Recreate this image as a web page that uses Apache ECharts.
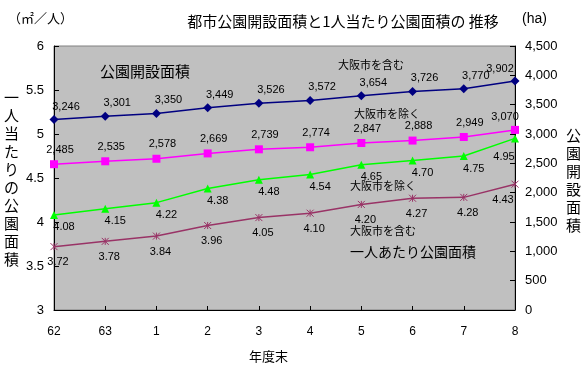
<!DOCTYPE html>
<html>
<head>
<meta charset="utf-8">
<script src="https://cdn.jsdelivr.net/npm/echarts@6/dist/echarts.min.js"></script>
<style>
	html, body { margin: 0; padding: 0; background: #fff; }
	#chart { width: 587px; height: 375px; }
</style>
</head>
<body>
<div id="chart"></div>
<script>
// 年度末 (昭和62 ～ 平成8)
var years = ['62', '63', '1', '2', '3', '4', '5', '6', '7', '8'];
// 公園開設面積 (ha)
var areaWithOsaka = [3246, 3301, 3350, 3449, 3526, 3572, 3654, 3726, 3770, 3902];
var areaWithoutOsaka = [2485, 2535, 2578, 2669, 2739, 2774, 2847, 2888, 2949, 3070];
// 一人あたり公園面積 (㎡/人)
var perWithoutOsaka = [4.08, 4.15, 4.22, 4.38, 4.48, 4.54, 4.65, 4.70, 4.75, 4.95];
var perWithOsaka = [3.72, 3.78, 3.84, 3.96, 4.05, 4.10, 4.20, 4.27, 4.28, 4.43];

var FONT = '"Liberation Sans", "Noto Sans CJK JP", sans-serif';
var CJK = '"Noto Sans CJK JP", sans-serif';

function fmt(v) {
	return String(v).replace(/\B(?=(\d{3})+(?!\d))/g, ',');
}

// last point label sits left of the point
function withLastLabel(arr, offset) {
	return arr.map(function(v, i) {
		if (i === arr.length - 1) {
			return { value: v, label: { offset: offset } };
		}
		return v;
	});
}

var chart = echarts.init(document.getElementById('chart'));
chart.setOption({
	animation: false,
	backgroundColor: '#ffffff',
	textStyle: { fontFamily: FONT },
	title: {
		text: '都市公園開設面積と1人当たり公園面積の 推移',
		left: 338,
		top: 9,
		textAlign: 'center',
		textStyle: { fontFamily: CJK, fontSize: 15, fontWeight: 'normal', color: '#000' }
	},
	grid: {
		left: 54, right: 72, top: 46, bottom: 65,
		show: true,
		backgroundColor: '#c0c0c0',
		borderColor: '#808080',
		borderWidth: 1
	},
	xAxis: {
		type: 'category',
		data: years,
		boundaryGap: false,
		axisLine: { lineStyle: { color: '#000', width: 1 } },
		axisTick: { inside: true, length: 4, lineStyle: { color: '#000' } },
		axisLabel: { color: '#000', fontSize: 12, margin: 16, fontFamily: FONT },
		splitLine: { show: false }
	},
	yAxis: [{
		type: 'value',
		min: 3, max: 6, interval: 0.5,
		position: 'left',
		axisLine: { show: true, lineStyle: { color: '#000' } },
		axisTick: { show: true, inside: true, length: 5, lineStyle: { color: '#000' } },
		axisLabel: { color: '#000', fontSize: 13, margin: 10, fontFamily: FONT },
		splitLine: { show: false }
	}, {
		type: 'value',
		min: 0, max: 4500, interval: 500,
		position: 'right',
		axisLine: { show: true, lineStyle: { color: '#000' } },
		axisTick: { show: true, inside: true, length: 5, lineStyle: { color: '#000' } },
		axisLabel: { color: '#000', fontSize: 13, margin: 10, fontFamily: FONT, formatter: fmt },
		splitLine: { show: false }
	}],
	series: [{
		name: '公園開設面積(大阪市を含む)',
		type: 'line',
		yAxisIndex: 1,
		data: withLastLabel(areaWithOsaka, [-15, 3]),
		symbol: 'diamond',
		symbolSize: 9,
		lineStyle: { color: '#000080', width: 1.5 },
		itemStyle: { color: '#000080' },
		label: { show: true, position: 'top', offset: [12, 2], fontSize: 11, color: '#000', formatter: function(p) { return fmt(p.value); } }
	}, {
		name: '公園開設面積(大阪市を除く)',
		type: 'line',
		yAxisIndex: 1,
		data: withLastLabel(areaWithoutOsaka, [-10, 2]),
		symbol: 'rect',
		symbolSize: 8,
		lineStyle: { color: '#ff00ff', width: 1.5 },
		itemStyle: { color: '#ff00ff' },
		label: { show: true, position: 'top', offset: [6, 0], fontSize: 11, color: '#000', formatter: function(p) { return fmt(p.value); } }
	}, {
		name: '一人あたり公園面積(大阪市を除く)',
		type: 'line',
		yAxisIndex: 0,
		data: withLastLabel(perWithoutOsaka, [-11, 4]),
		symbol: 'triangle',
		symbolSize: 8,
		lineStyle: { color: '#00ff00', width: 1.5 },
		itemStyle: { color: '#00ff00' },
		label: { show: true, position: 'bottom', offset: [10, -2], fontSize: 11, color: '#000', formatter: function(p) { return p.value.toFixed(2); } }
	}, {
		name: '一人あたり公園面積(大阪市を含む)',
		type: 'line',
		yAxisIndex: 0,
		data: withLastLabel(perWithOsaka, [-12, -1]),
		symbol: 'path://M0,0 L10,10 M10,0 L0,10 M5,0 L5,10',
		symbolSize: 7,
		symbolKeepAspect: true,
		lineStyle: { color: '#993366', width: 1.5 },
		itemStyle: { color: 'none', borderColor: '#993366', borderWidth: 1 },
		label: { show: true, position: 'bottom', offset: [4, -1], fontSize: 11, color: '#000', formatter: function(p) { return p.value.toFixed(2); } }
	}],
	graphic: [
		{ type: 'text', left: 8, top: 12, style: { text: '（㎡／人）', font: '13px ' + CJK, fill: '#000' } },
		{ type: 'text', left: 522, top: 12, style: { text: '(ha)', font: '14px ' + FONT, fill: '#000' } },
		{ type: 'text', left: 4, top: 88, style: { text: '一\n人\n当\nた\nり\nの\n公\n園\n面\n積', font: '15px ' + CJK, fill: '#000', lineHeight: 18 } },
		{ type: 'text', left: 566, top: 126, style: { text: '公\n園\n開\n設\n面\n積', font: '15px ' + CJK, fill: '#000', lineHeight: 18 } },
		{ type: 'text', left: 100, top: 64, style: { text: '公園開設面積', font: '15px ' + CJK, fill: '#000' } },
		{ type: 'text', left: 338, top: 59, style: { text: '大阪市を含む', font: '11px ' + CJK, fill: '#000' } },
		{ type: 'text', left: 354, top: 108, style: { text: '大阪市を除く', font: '11px ' + CJK, fill: '#000' } },
		{ type: 'text', left: 350, top: 180, style: { text: '大阪市を除く', font: '11px ' + CJK, fill: '#000' } },
		{ type: 'text', left: 350, top: 225, style: { text: '大阪市を含む', font: '11px ' + CJK, fill: '#000' } },
		{ type: 'text', left: 350, top: 245, style: { text: '一人あたり公園面積', font: '14px ' + CJK, fill: '#000' } },
		{ type: 'text', left: 249, top: 350, style: { text: '年度末', font: '13px ' + CJK, fill: '#000' } }
	]
});
</script>
</body>
</html>
